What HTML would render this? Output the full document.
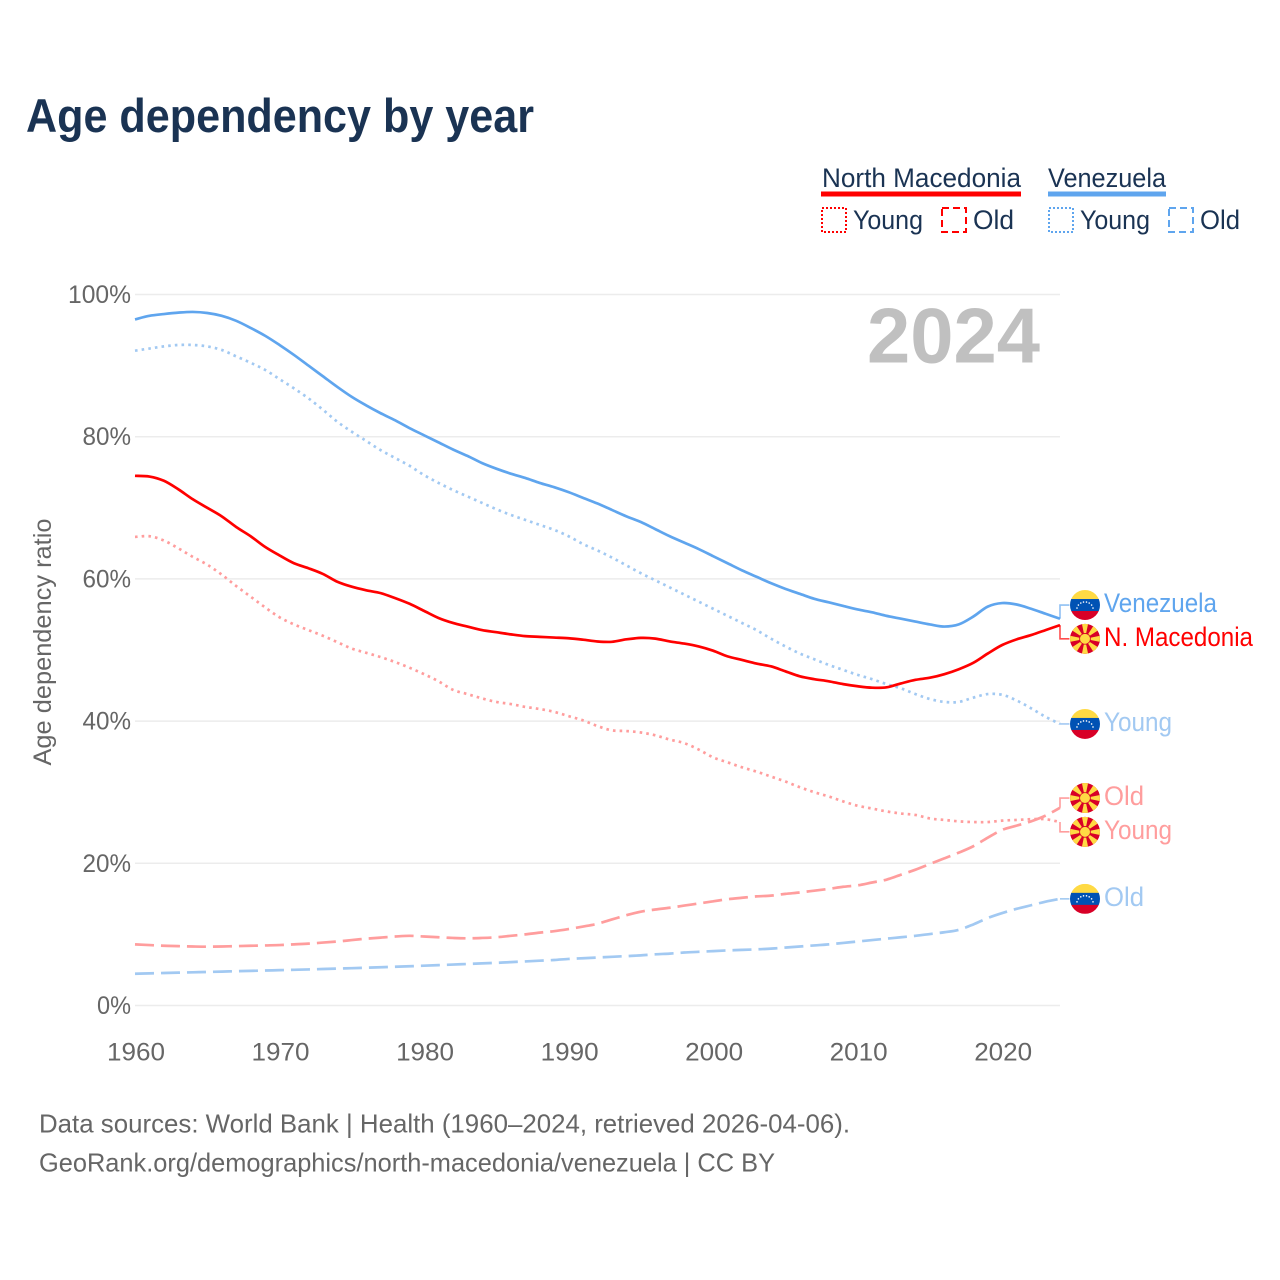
<!DOCTYPE html>
<html lang="en">
<head>
<meta charset="utf-8">
<title>Age dependency by year</title>
<style>
html,body{margin:0;padding:0;background:#fff;}
svg{display:block;font-family:"Liberation Sans",sans-serif;}
</style>
</head>
<body>
<svg id="chart" xmlns="http://www.w3.org/2000/svg" width="1280" height="1280" viewBox="0 0 1280 1280">
<defs>
<symbol id="flag-ve" viewBox="-16 -16 32 32">
<circle r="15.6" fill="#fff"/>
<clipPath id="clip-ve"><circle r="15"/></clipPath>
<g clip-path="url(#clip-ve)">
<rect x="-15" y="-15" width="30" height="10" fill="#ffda44"/>
<rect x="-15" y="-6" width="30" height="12.5" fill="#0052b4"/>
<rect x="-15" y="6" width="30" height="9" fill="#d80027"/>
</g>
<g fill="#fff">
<circle cx="-8" cy="3" r=".8"/><circle cx="-6.6" cy="0" r=".8"/><circle cx="-4.2" cy="-2" r=".8"/><circle cx="-1.5" cy="-3" r=".8"/><circle cx="1.5" cy="-3" r=".8"/><circle cx="4.2" cy="-2" r=".8"/><circle cx="6.6" cy="0" r=".8"/><circle cx="8" cy="3" r=".8"/>
</g>
</symbol>
<symbol id="flag-mk" viewBox="-16 -16 32 32">
<circle r="15.6" fill="#fff"/>
<clipPath id="clip-mk"><circle r="15"/></clipPath>
<circle r="15" fill="#d80027"/>
<g fill="#ffda44" clip-path="url(#clip-mk)">
<path d="M-3.2 -15.5 L3.2 -15.5 L0 0Z"/>
<path d="M-3.2 15.5 L3.2 15.5 L0 0Z"/>
<path d="M-15.5 -3.2 L-15.5 3.2 L0 0Z"/>
<path d="M15.5 -3.2 L15.5 3.2 L0 0Z"/>
<path d="M-13.2 -8.6 L-8.6 -13.2 L0 0Z"/>
<path d="M13.2 -8.6 L8.6 -13.2 L0 0Z"/>
<path d="M-13.2 8.6 L-8.6 13.2 L0 0Z"/>
<path d="M13.2 8.6 L8.6 13.2 L0 0Z"/>
<circle r="5.4" stroke="#d80027" stroke-width="0.8"/>
</g>
</symbol>
</defs>

<text x="26" y="132" font-size="47" font-weight="700" fill="#1a3353" textLength="508" lengthAdjust="spacingAndGlyphs">Age dependency by year</text>

<g fill="#1a3353" font-size="27">
<text x="822" y="187" textLength="199" lengthAdjust="spacingAndGlyphs">North Macedonia</text>
<rect x="821" y="191.5" width="200" height="5" fill="#ff0000"/>
<text x="1048" y="187" textLength="118" lengthAdjust="spacingAndGlyphs">Venezuela</text>
<rect x="1048" y="191.5" width="118" height="5" fill="#5fa5ee"/>
<rect x="822" y="208" width="24" height="24" fill="none" stroke="#ff0000" stroke-width="2" stroke-dasharray="2 2"/>
<text x="853" y="229" textLength="70" lengthAdjust="spacingAndGlyphs">Young</text>
<rect x="942" y="208" width="24" height="24" fill="none" stroke="#ff0000" stroke-width="2" stroke-dasharray="7 4"/>
<text x="973" y="229" textLength="41" lengthAdjust="spacingAndGlyphs">Old</text>
<rect x="1049" y="208" width="24" height="24" fill="none" stroke="#5fa5ee" stroke-width="2" stroke-dasharray="2 2"/>
<text x="1080" y="229" textLength="70" lengthAdjust="spacingAndGlyphs">Young</text>
<rect x="1169" y="208" width="24" height="24" fill="none" stroke="#5fa5ee" stroke-width="2" stroke-dasharray="7 4"/>
<text x="1200" y="229" textLength="40" lengthAdjust="spacingAndGlyphs">Old</text>
</g>

<g id="grid"></g>
<g id="yticks"></g>
<g id="xticks"></g>

<text transform="translate(51,642) rotate(-90)" text-anchor="middle" font-size="25" fill="#666" textLength="247" lengthAdjust="spacingAndGlyphs">Age dependency ratio</text>

<text x="867" y="362.5" font-size="78" font-weight="700" fill="#c0c0c0" textLength="173" lengthAdjust="spacingAndGlyphs">2024</text>

<g id="series"></g>
<g id="endlabels"></g>

<g font-size="26" fill="#666">
<text x="39" y="1132.5" textLength="811" lengthAdjust="spacingAndGlyphs">Data sources: World Bank | Health (1960–2024, retrieved 2026-04-06).</text>
<text x="39" y="1171.5" textLength="736" lengthAdjust="spacingAndGlyphs">GeoRank.org/demographics/north-macedonia/venezuela | CC BY</text>
</g>
</svg>

<script>
const startYear = 1960;
const endYear = 2024;
const xTickYears = [1960, 1970, 1980, 1990, 2000, 2010, 2020];
const yTickValues = [0, 20, 40, 60, 80, 100];

const venezuelaTotal = [
96.5,97.0,97.25,97.45,97.55,97.4,97.0,96.3,95.3,94.2,
92.9,91.5,90.0,88.5,87.0,85.6,84.4,83.3,82.3,81.2,
80.2,79.2,78.2,77.3,76.3,75.5,74.8,74.2,73.5,72.9,
72.2,71.4,70.6,69.7,68.8,68.0,67.0,66.0,65.1,64.2,
63.2,62.2,61.2,60.3,59.4,58.6,57.9,57.2,56.7,56.2,
55.7,55.3,54.8,54.4,54.0,53.6,53.3,53.6,54.7,56.1,
56.6,56.4,55.8,55.1,54.4];
const venezuelaYoung = [
92.1,92.4,92.7,92.9,92.9,92.7,92.2,91.3,90.4,89.4,
88.1,86.8,85.4,83.8,82.1,80.7,79.4,78.1,77.0,75.9,
74.6,73.5,72.5,71.6,70.7,69.8,69.0,68.3,67.6,66.9,
66.0,64.9,64.0,63.0,61.9,60.8,59.8,58.8,57.8,56.8,
55.8,54.8,53.8,52.8,51.6,50.5,49.5,48.7,47.9,47.2,
46.5,45.9,45.2,44.6,43.8,43.1,42.7,42.7,43.3,43.8,
43.7,42.9,41.8,40.6,39.6];
const venezuelaOld = [
4.47,4.52,4.57,4.62,4.67,4.72,4.77,4.82,4.87,4.92,
4.97,5.02,5.07,5.13,5.19,5.25,5.31,5.38,5.45,5.52,
5.6,5.68,5.76,5.84,5.92,6.0,6.1,6.2,6.3,6.4,
6.55,6.65,6.75,6.85,6.95,7.05,7.2,7.3,7.45,7.55,
7.65,7.75,7.82,7.9,8.0,8.15,8.3,8.45,8.6,8.8,
9.0,9.2,9.4,9.6,9.8,10.05,10.3,10.65,11.4,12.3,
13.0,13.6,14.1,14.6,15.0];
const macedoniaTotal = [
74.5,74.4,73.8,72.6,71.2,70.0,68.8,67.3,66.0,64.5,
63.3,62.2,61.5,60.7,59.6,58.9,58.4,58.0,57.3,56.5,
55.5,54.5,53.8,53.3,52.8,52.5,52.2,51.95,51.85,51.75,
51.65,51.45,51.2,51.15,51.5,51.7,51.6,51.2,50.9,50.5,
49.9,49.1,48.6,48.1,47.7,47.0,46.3,45.9,45.6,45.2,
44.9,44.7,44.75,45.3,45.8,46.1,46.6,47.3,48.2,49.5,
50.7,51.5,52.1,52.8,53.5];
const macedoniaYoung = [
65.9,66.0,65.4,64.3,63.1,62.0,60.6,59.0,57.5,56.0,
54.6,53.6,52.8,52.0,51.1,50.2,49.6,49.0,48.3,47.5,
46.6,45.6,44.4,43.8,43.2,42.7,42.4,42.0,41.7,41.3,
40.7,40.1,39.3,38.7,38.6,38.4,38.0,37.4,36.9,36.0,
34.9,34.2,33.5,32.9,32.2,31.5,30.7,30.0,29.4,28.7,
28.1,27.7,27.3,27.0,26.8,26.3,26.1,25.9,25.8,25.8,
26.0,26.1,26.2,26.2,25.8];
const macedoniaOld = [
8.6,8.5,8.4,8.35,8.3,8.27,8.3,8.35,8.4,8.45,
8.5,8.6,8.7,8.85,9.0,9.2,9.4,9.55,9.7,9.8,
9.7,9.6,9.5,9.45,9.5,9.6,9.8,10.0,10.25,10.45,
10.75,11.1,11.5,12.1,12.7,13.2,13.5,13.75,14.05,14.35,
14.65,14.95,15.15,15.35,15.45,15.7,15.9,16.15,16.4,16.7,
16.9,17.3,17.7,18.4,19.1,19.9,20.7,21.5,22.4,23.6,
24.7,25.3,25.9,26.7,27.8];

const NS = 'http://www.w3.org/2000/svg';
const plotLeft = 135, plotRight = 1060, plotTop = 294.5, plotBottom = 1005.5;
const xScale = function (year) {
  return plotLeft + (year - startYear) / (endYear - startYear) * (plotRight - plotLeft);
};
const yScale = function (value) {
  return plotBottom - value / 100 * (plotBottom - plotTop);
};

function make(tag, attrs, parent) {
  const el = document.createElementNS(NS, tag);
  Object.keys(attrs).forEach(function (k) { el.setAttribute(k, attrs[k]); });
  parent.appendChild(el);
  return el;
}

/* Catmull-Rom smoothing through the data points */
function smoothPath(values) {
  const pts = values.map(function (v, i) { return [xScale(startYear + i), yScale(v)]; });
  let d = 'M' + pts[0][0].toFixed(2) + ' ' + pts[0][1].toFixed(2);
  for (let i = 0; i < pts.length - 1; i++) {
    const p0 = pts[Math.max(i - 1, 0)], p1 = pts[i], p2 = pts[i + 1], p3 = pts[Math.min(i + 2, pts.length - 1)];
    const c1x = p1[0] + (p2[0] - p0[0]) / 6, c1y = p1[1] + (p2[1] - p0[1]) / 6;
    const c2x = p2[0] - (p3[0] - p1[0]) / 6, c2y = p2[1] - (p3[1] - p1[1]) / 6;
    d += 'C' + c1x.toFixed(2) + ' ' + c1y.toFixed(2) + ' ' + c2x.toFixed(2) + ' ' + c2y.toFixed(2) + ' ' + p2[0].toFixed(2) + ' ' + p2[1].toFixed(2);
  }
  return d;
}

const gridGroup = document.getElementById('grid');
const yGroup = document.getElementById('yticks');
yTickValues.forEach(function (v) {
  const line = make('line', {x1: plotLeft, x2: plotRight, y1: yScale(v), y2: yScale(v), stroke: '#ececec', 'stroke-width': 1.5}, gridGroup);
  
  
  const label = v + '%';
  const t = make('text', {x: 131, y: yScale(v) + 8.5, 'text-anchor': 'end', 'font-size': 25, fill: '#666', textLength: (label.length - 1) * 14.5 + 19.5, lengthAdjust: 'spacingAndGlyphs'}, yGroup);
  t.textContent = label;
  
  
});

const xGroup = document.getElementById('xticks');
xTickYears.forEach(function (yr) {
  const t = make('text', {x: xScale(yr) + 1, y: 1060.5, 'text-anchor': 'middle', 'font-size': 25, fill: '#666', textLength: 58, lengthAdjust: 'spacingAndGlyphs'}, xGroup);
  t.textContent = yr;
  
  
});

const blue = '#5fa5ee', red = '#ff0000', lightBlue = '#a2c9f2', lightRed = '#ff9d9d';
const dotted = '2.6 4.1', dashed = '19 7';

const seriesDefs = [
  {id: 'venezuela-old', values: venezuelaOld, color: lightBlue, dash: dashed, label: 'Old', flag: 'flag-ve', w: 40},
  {id: 'macedonia-old', values: macedoniaOld, color: lightRed, dash: dashed, label: 'Old', flag: 'flag-mk', w: 40},
  {id: 'macedonia-young', values: macedoniaYoung, color: lightRed, dash: dotted, label: 'Young', flag: 'flag-mk', w: 68},
  {id: 'venezuela-young', values: venezuelaYoung, color: lightBlue, dash: dotted, label: 'Young', flag: 'flag-ve', w: 68},
  {id: 'macedonia-total', values: macedoniaTotal, color: red, dash: null, label: 'N. Macedonia', flag: 'flag-mk', w: 149},
  {id: 'venezuela-total', values: venezuelaTotal, color: blue, dash: null, label: 'Venezuela', flag: 'flag-ve', w: 113}
];

const seriesGroup = document.getElementById('series');
seriesDefs.forEach(function (s) {
  const attrs = {d: smoothPath(s.values), fill: 'none', stroke: s.color, 'stroke-width': 2.7, 'stroke-linejoin': 'round'};
  if (s.dash) attrs['stroke-dasharray'] = s.dash;
  const p = make('path', attrs, seriesGroup);
  
  
});

/* end-label placement: each label sits at its line's final value, pushed apart if too close */
const minGap = 33.8;
const placed = seriesDefs.map(function (s) {
  const yEnd = yScale(s.values[s.values.length - 1]);
  return {s: s, yEnd: yEnd, y: yEnd};
}).sort(function (a, b) { return a.yEnd - b.yEnd; });
for (let i = 0; i < placed.length - 1; i++) {
  const a = placed[i], b = placed[i + 1];
  if (b.y - a.y < minGap) {
    const mid = (a.y + b.y) / 2;
    a.y = mid - minGap / 2;
    b.y = mid + minGap / 2;
  }
}

const labelGroup = document.getElementById('endlabels');
placed.forEach(function (p) {
  const flagY = p.y;
  const conn = make('path', {d: 'M' + plotRight + ' ' + p.yEnd + 'V' + flagY + 'H1072', fill: 'none', stroke: p.s.color, 'stroke-width': 1.6, opacity: p.s.dash ? 1 : 0.7}, labelGroup);
  
  
  const flag = make('use', {href: '#' + p.s.flag, x: 1069, y: flagY - 16, width: 32, height: 32}, labelGroup);
  
  
  const t = make('text', {x: 1104, y: flagY + 7, 'font-size': 26.5, fill: p.s.color, textLength: p.s.w, lengthAdjust: 'spacingAndGlyphs'}, labelGroup);
  t.textContent = p.s.label;
  
  
});
</script>
</body>
</html>
